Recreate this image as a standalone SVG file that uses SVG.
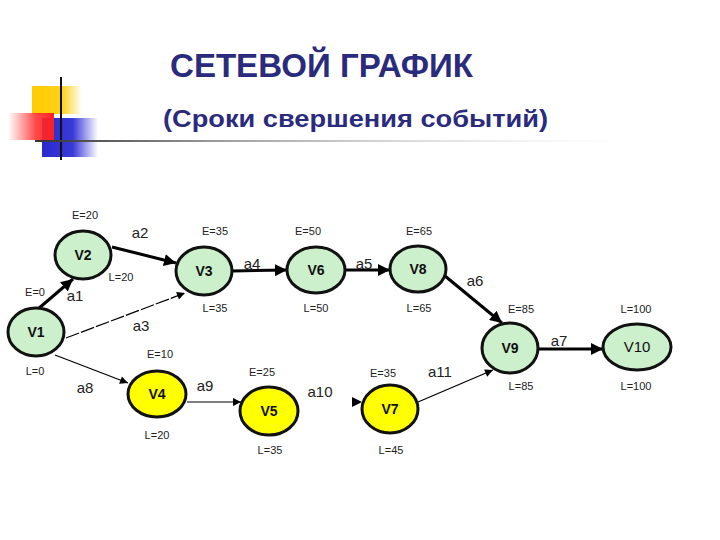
<svg xmlns="http://www.w3.org/2000/svg" width="720" height="540" viewBox="0 0 720 540">
<defs>
<linearGradient id="gy" x1="0" y1="0" x2="1" y2="0"><stop offset="0" stop-color="#ffcc00"/><stop offset="0.6" stop-color="#ffd21a"/><stop offset="1" stop-color="#ffd21a" stop-opacity="0"/></linearGradient>
<linearGradient id="gr" x1="0" y1="0" x2="1" y2="0"><stop offset="0" stop-color="#ff3030" stop-opacity="0"/><stop offset="0.6" stop-color="#ff2a2a" stop-opacity="0.85"/><stop offset="1" stop-color="#ff2020"/></linearGradient>
<linearGradient id="gb" x1="0" y1="0" x2="1" y2="0"><stop offset="0" stop-color="#2a2ad0"/><stop offset="0.55" stop-color="#3a3ad8"/><stop offset="1" stop-color="#3a3ad8" stop-opacity="0"/></linearGradient>
<linearGradient id="gl" x1="0" y1="0" x2="1" y2="0"><stop offset="0" stop-color="#333"/><stop offset="0.3" stop-color="#999"/><stop offset="1" stop-color="#ddd" stop-opacity="0"/></linearGradient>
<marker id="ah" viewBox="0 0 10 10" refX="10" refY="5" markerWidth="4" markerHeight="4" markerUnits="strokeWidth" orient="auto"><path d="M0,0 L10,5 L0,10 z" fill="#000"/></marker>
<marker id="ahs" viewBox="0 0 10 10" refX="10" refY="5" markerWidth="10" markerHeight="8" markerUnits="userSpaceOnUse" orient="auto"><path d="M0,0 L10,5 L0,10 z" fill="#000"/></marker>
</defs>
<style>
.t{font-family:"Liberation Sans",Arial,sans-serif;font-size:11px;fill:#222;text-anchor:middle}
.a{font-family:"Liberation Sans",Arial,sans-serif;font-size:15px;fill:#222;text-anchor:middle}
.v{font-family:"Liberation Sans",Arial,sans-serif;font-size:14px;font-weight:bold;fill:#111;text-anchor:middle}
.vn{font-family:"Liberation Sans",Arial,sans-serif;font-size:15px;font-weight:normal;fill:#111;text-anchor:middle}
.g{fill:#ccefcc;stroke:#111;stroke-width:3}
.y{fill:#ffff00;stroke:#111;stroke-width:3}
.k{stroke:#000;stroke-width:3;fill:none;marker-end:url(#ah)}
.n{stroke:#000;stroke-width:1.2;fill:none;marker-end:url(#ahs)}
.ttl{font-family:"Comic Sans MS","Liberation Sans",sans-serif;font-weight:bold;fill:#2b2b7e}
</style>
<rect width="720" height="540" fill="#fff"/>
<g id="decor">
<rect x="32" y="86" width="50" height="28" fill="url(#gy)"/>
<rect x="42" y="118" width="56" height="39" fill="url(#gb)"/>
<rect x="8" y="113" width="46" height="27" fill="url(#gr)"/>
<line x1="61" y1="77" x2="61" y2="160" stroke="#111" stroke-width="2"/>
<rect x="35" y="140" width="590" height="2" fill="url(#gl)"/>
</g>
<g id="title">
<text class="ttl" x="170" y="77" font-size="34" textLength="303" lengthAdjust="spacingAndGlyphs">СЕТЕВОЙ ГРАФИК</text>
<text class="ttl" x="163" y="127" font-size="23" textLength="385" lengthAdjust="spacingAndGlyphs">(Сроки свершения событий)</text>
</g>
<g id="connectors">
<line class="k" x1="38" y1="309" x2="73" y2="279"/>
<line class="k" x1="112" y1="247" x2="176" y2="263"/>
<line class="n" x1="66" y1="338" x2="185" y2="293" stroke-dasharray="14 2"/>
<line class="k" x1="232" y1="271" x2="287" y2="270"/>
<line class="k" x1="345" y1="270" x2="390" y2="270"/>
<line class="k" x1="445" y1="276" x2="502" y2="323"/>
<line class="k" x1="538" y1="349" x2="603" y2="349"/>
<line class="n" x1="55" y1="355" x2="128" y2="383"/>
<line class="n" x1="187" y1="402" x2="241" y2="402"/>
<path d="M352,397 L362,402 L352,407 z" fill="#000"/>
<line class="n" x1="418" y1="402" x2="493" y2="370"/>
</g>
<g id="V1"><ellipse class="g" cx="36" cy="332" rx="28" ry="24"/><text class="v" x="36" y="337">V1</text></g>
<g id="V2"><ellipse class="g" cx="83" cy="255" rx="28" ry="24"/><text class="v" x="83" y="260">V2</text></g>
<g id="V3"><ellipse class="g" cx="204" cy="271" rx="28" ry="24"/><text class="v" x="204" y="276">V3</text></g>
<g id="V4"><ellipse class="y" cx="157" cy="394" rx="29" ry="23"/><text class="v" x="157" y="399">V4</text></g>
<g id="V5"><ellipse class="y" cx="269" cy="411" rx="29" ry="24"/><text class="v" x="269" y="416">V5</text></g>
<g id="V6"><ellipse class="g" cx="316" cy="270" rx="29" ry="23"/><text class="v" x="316" y="275">V6</text></g>
<g id="V7"><ellipse class="y" cx="390" cy="409" rx="28" ry="24"/><text class="v" x="390" y="414">V7</text></g>
<g id="V8"><ellipse class="g" cx="418" cy="269" rx="28" ry="23"/><text class="v" x="418" y="274">V8</text></g>
<g id="V9"><ellipse class="g" cx="510" cy="348" rx="28" ry="25"/><text class="v" x="510" y="353">V9</text></g>
<g id="V10"><ellipse class="g" cx="637" cy="347" rx="34" ry="23"/><text class="vn" x="637" y="352">V10</text></g>
<g id="labels">
<text class="t" x="85" y="219">E=20</text>
<text class="t" x="35" y="296">E=0</text>
<text class="t" x="121" y="281">L=20</text>
<text class="t" x="215" y="235">E=35</text>
<text class="t" x="215" y="312">L=35</text>
<text class="t" x="308" y="235">E=50</text>
<text class="t" x="316" y="312">L=50</text>
<text class="t" x="419" y="235">E=65</text>
<text class="t" x="419" y="312">L=65</text>
<text class="t" x="521" y="313">E=85</text>
<text class="t" x="636" y="313">L=100</text>
<text class="t" x="521" y="390">L=85</text>
<text class="t" x="636" y="390">L=100</text>
<text class="t" x="35" y="375">L=0</text>
<text class="t" x="160" y="358">E=10</text>
<text class="t" x="157" y="439">L=20</text>
<text class="t" x="262" y="376">E=25</text>
<text class="t" x="270" y="454">L=35</text>
<text class="t" x="383" y="377">E=35</text>
<text class="t" x="391" y="454">L=45</text>
<text class="a" x="75" y="301">a1</text>
<text class="a" x="140" y="238">a2</text>
<text class="a" x="141" y="331">a3</text>
<text class="a" x="252" y="269">a4</text>
<text class="a" x="364" y="269">a5</text>
<text class="a" x="475" y="286">a6</text>
<text class="a" x="559" y="346">a7</text>
<text class="a" x="85" y="393">a8</text>
<text class="a" x="205" y="391">a9</text>
<text class="a" x="320" y="397">a10</text>
<text class="a" x="440" y="377">a11</text>
</g>
</svg>
